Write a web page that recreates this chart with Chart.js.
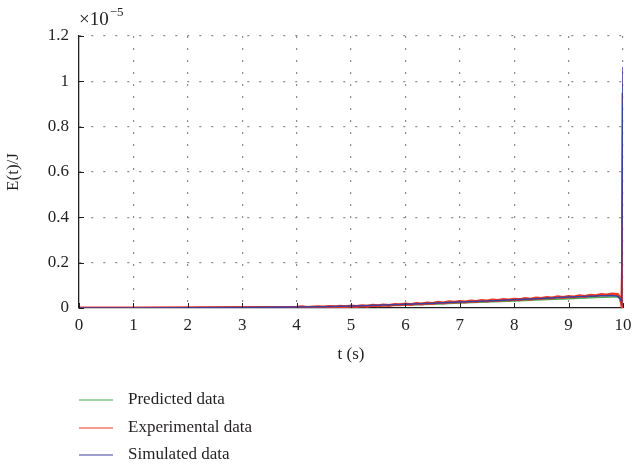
<!DOCTYPE html>
<html><head><meta charset="utf-8">
<script src="https://cdn.jsdelivr.net/npm/chart.js@4/dist/chart.umd.min.js"></script>
<style>html,body{margin:0;padding:0;background:#fff}canvas{display:block}</style>
</head><body>
<canvas id="c" width="632" height="466"></canvas>
<script>
// values in units of 1e-5 J
const xTicks = [0,1,2,3,4,5,6,7,8,9,10];
const yTicks = [0,0.2,0.4,0.6,0.8,1,1.2];
const seriesNames = ["Predicted data","Experimental data","Simulated data"];

const tPredicted = [0,1,2,3,3.5,4,4.5,5,5.5,6,6.5,7,7.5,8,8.5,9,9.5,9.8,9.9,9.95,10];
const vPredicted = [0,0,0.001,0.002,0.003,0.004,0.005,0.007,0.010,0.013,0.017,0.022,0.027,0.031,0.036,0.041,0.046,0.049,0.048,0.040,0.030];

const tExperimental = [0,1,2,3,3.5,
 4.0,4.1,4.2,4.3,4.4,4.5,4.6,4.7,4.8,4.9,
 5.0,5.1,5.2,5.3,5.4,5.5,5.6,5.7,5.8,5.9,
 6.0,6.1,6.2,6.3,6.4,6.5,6.6,6.7,6.8,6.9,
 7.0,7.1,7.2,7.3,7.4,7.5,7.6,7.7,7.8,7.9,
 8.0,8.1,8.2,8.3,8.4,8.5,8.6,8.7,8.8,8.9,
 9.0,9.1,9.2,9.3,9.4,9.5,9.6,9.7,9.8,9.9,
 9.95,9.98,9.99,10];
const vExperimental = [0,0.0005,0.001,0.002,0.002,
 0.003,0.005,0.002,0.004,0.006,0.004,0.007,0.005,0.008,0.006,
 0.009,0.007,0.010,0.008,0.012,0.010,0.013,0.011,0.015,0.014,
 0.018,0.015,0.020,0.018,0.022,0.020,0.025,0.022,0.027,0.025,
 0.029,0.027,0.031,0.029,0.033,0.031,0.035,0.033,0.037,0.035,
 0.039,0.037,0.042,0.039,0.044,0.042,0.046,0.044,0.049,0.046,
 0.051,0.049,0.054,0.051,0.056,0.054,0.059,0.057,0.062,0.060,
 0.045,0.010,0.170,0.950];

const tSimulated = [0,1,2,3,4,4.5,5,5.5,6,6.5,7,7.5,8,8.5,9,9.3,9.6,9.8,9.9,9.95,9.975,10];
const vSimulated = [0,0,0.001,0.002,0.004,0.006,0.009,0.012,0.016,0.021,0.026,0.031,0.036,0.042,0.048,0.051,0.054,0.055,0.052,0.042,0.025,1.063];

const colors = ["#45b04f","#ee3a22","#3f3f9e"];
const FONT = "'Liberation Serif', 'DejaVu Serif', serif";
const TXT = "#231f20";

function pts(t, v){ return t.map((x,i)=>({x:x, y:v[i]})); }

const extras = {
  id:'extras',
  afterDatasetsDraw(chart){
    const ctx = chart.ctx, ca = chart.chartArea;
    const xs = chart.scales.x, ys = chart.scales.y;
    ctx.save();
    ctx.setLineDash([]);
    ctx.strokeStyle = "#231f20"; ctx.lineWidth = 1;
    ctx.beginPath();
    xTicks.forEach(v=>{ const px = Math.round(xs.getPixelForValue(v))+0.5; ctx.moveTo(px, ca.bottom); ctx.lineTo(px, ca.bottom-5); });
    yTicks.forEach(v=>{ const py = Math.round(ys.getPixelForValue(v))+0.5; ctx.moveTo(ca.left, py); ctx.lineTo(ca.left+5, py); });
    ctx.stroke();
    ctx.restore();
  },
  afterDraw(chart){
    const ctx = chart.ctx, ca = chart.chartArea;
    ctx.save();
    ctx.setLineDash([]);
    ctx.fillStyle = TXT;
    // multiplier
    ctx.font = "19px " + FONT; ctx.textBaseline = "alphabetic"; ctx.textAlign = "left";
    ctx.fillText("\u00d710", 79, 25);
    const w = ctx.measureText("\u00d710").width;
    ctx.font = "13px " + FONT;
    ctx.fillText("\u22125", 79 + w + 1, 16);
    // y title
    ctx.font = "17px " + FONT;
    ctx.save();
    ctx.translate(14, (ca.top+ca.bottom)/2);
    ctx.rotate(-Math.PI/2);
    ctx.textAlign = "center"; ctx.textBaseline = "middle";
    ctx.fillText("E(t)/J", 0, 0);
    ctx.restore();
    // x title
    ctx.textAlign = "center"; ctx.textBaseline = "middle";
    ctx.fillText("t (s)", (ca.left+ca.right)/2, 355);
    // legend
    ctx.textAlign = "left";
    chart.data.datasets.forEach((ds,i)=>{
      const y = Math.round(400 + i*27.5);
      ctx.strokeStyle = colors[i]; ctx.lineWidth = 1.2;
      ctx.beginPath(); ctx.moveTo(79, y); ctx.lineTo(113, y); ctx.stroke();
      ctx.fillStyle = TXT;
      ctx.fillText(ds.label, 128, y);
    });
    ctx.restore();
  }
};

const gridColor = (c)=> c.tick && c.tick.value===0 ? 'rgba(0,0,0,0)' : '#8c8c8c';

new Chart(document.getElementById('c'), {
  type:'line',
  data:{ datasets:[
    {label:seriesNames[0], data:pts(tPredicted,vPredicted), borderColor:colors[0], borderWidth:1.5, pointRadius:0, order:2},
    {label:seriesNames[1], data:pts(tExperimental,vExperimental), borderColor:colors[1], borderWidth:3, pointRadius:0, order:1},
    {label:seriesNames[2], data:pts(tSimulated,vSimulated), borderColor:colors[2], borderWidth:1.5, pointRadius:0, order:0}
  ]},
  plugins:[extras],
  options:{
    responsive:false, animation:false, devicePixelRatio:1,
    layout:{ padding:{ left:0, right:9, top:36, bottom:118 } },
    plugins:{ legend:{display:false}, tooltip:{enabled:false} },
    elements:{ line:{ tension:0 } },
    scales:{
      x:{ type:'linear', min:0, max:10,
        afterBuildTicks(s){ s.ticks = xTicks.map(v=>({value:v})); },
        afterFit(s){ s.height = 40; s.paddingLeft = 0; s.paddingRight = 0; },
        ticks:{ color:TXT, font:{family:FONT, size:17}, padding:7, maxRotation:0, callback:v=>String(v) },
        grid:{ color:gridColor, lineWidth:1.2, drawTicks:false },
        border:{ display:true, color:'#231f20', width:1.3, dash:[2,10] },
      },
      y:{ type:'linear', min:0, max:1.2,
        afterBuildTicks(s){ s.ticks = yTicks.map(v=>({value:v})); },
        afterFit(s){ s.width = 79; s.paddingTop = 0; s.paddingBottom = 0; },
        ticks:{ color:TXT, font:{family:FONT, size:17}, padding:10, callback:v=>String(Math.round(v*10)/10) },
        grid:{ color:gridColor, lineWidth:1.2, drawTicks:false },
        border:{ display:true, color:'#231f20', width:1.3, dash:[2,10] }
      }
    }
  }
});
</script>
</body></html>
